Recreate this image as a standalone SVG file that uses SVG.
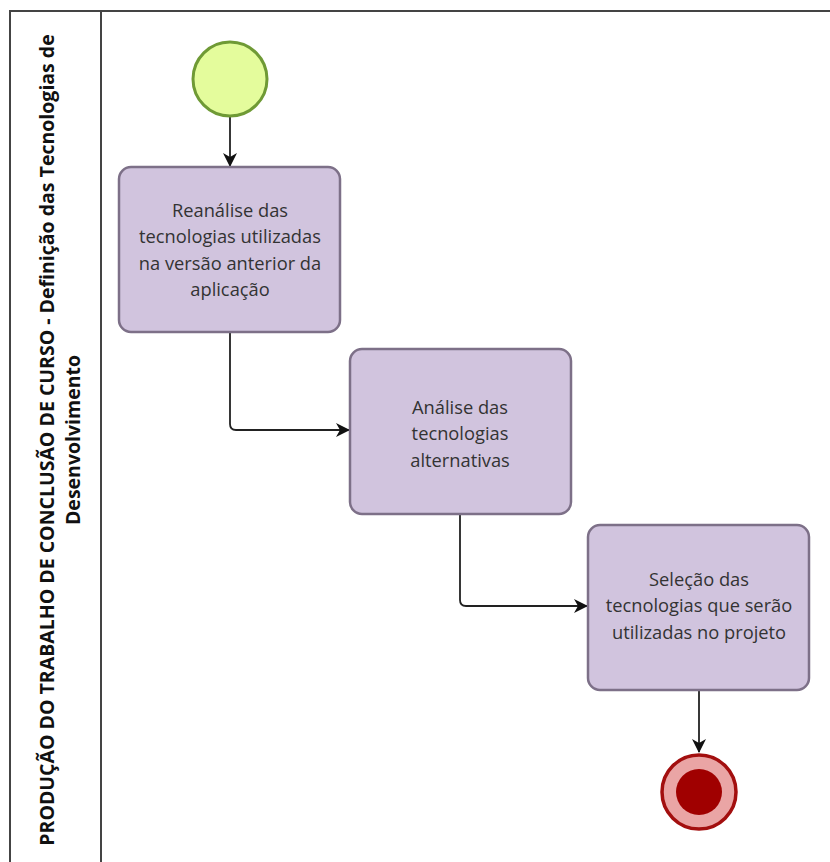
<svg xmlns="http://www.w3.org/2000/svg" width="830" height="862" viewBox="0 0 830 862">
  <defs>
    <marker id="arrow" markerWidth="16" markerHeight="16" refX="13" refY="7" orient="auto" markerUnits="userSpaceOnUse">
      <path d="M0,0 L14,7 L0,14 L4,7 Z" fill="#111"/>
    </marker>
    <style>
      .lane { fill: none; stroke: #444; stroke-width: 2; }
      .task rect { fill: #d1c4de; stroke: #7d7088; stroke-width: 2.5; }
      .task text { font-family: "Open Sans", "Noto Sans", sans-serif; font-size: 18.3px; fill: #333; text-anchor: middle; }
      .title { font-family: "Open Sans", "Noto Sans", sans-serif; font-size: 19.5px; font-weight: bold; fill: #111; text-anchor: middle; }
      .flow { fill: none; stroke: #222; stroke-width: 1.8; marker-end: url(#arrow); }
    </style>
  </defs>
  <rect width="830" height="862" fill="#fff"/>

  <!-- pool / lane -->
  <g id="lane">
    <path class="lane" d="M830,11 H10 V862 M101,11 V862"/>
    <text class="title" transform="translate(54,440) rotate(-90)">PRODUÇÃO DO TRABALHO DE CONCLUSÃO DE CURSO - Definição das Tecnologias de</text>
    <text class="title" transform="translate(80,440) rotate(-90)">Desenvolvimento</text>
  </g>

  <!-- connectors -->
  <g id="connectors">
    <path class="flow" d="M230,117 V166"/>
    <path class="flow" d="M230,332 V424 Q230,430 236,430 H349"/>
    <path class="flow" d="M460,513 V600 Q460,606 466,606 H587"/>
    <path class="flow" d="M699,690 V752"/>
  </g>

  <g id="start">
    <circle cx="230" cy="79" r="37" fill="#e4fc9c" stroke="#6f9a35" stroke-width="3"/>
  </g>

  <g id="task1" class="task">
    <rect x="119" y="167" width="221" height="165" rx="12"/>
    <text x="230" y="217">Reanálise das</text>
    <text x="230" y="243">tecnologias utilizadas</text>
    <text x="230" y="270">na versão anterior da</text>
    <text x="230" y="296">aplicação</text>
  </g>

  <g id="task2" class="task">
    <rect x="350" y="349" width="221" height="165" rx="12"/>
    <text x="460" y="414">Análise das</text>
    <text x="460" y="440">tecnologias</text>
    <text x="460" y="467">alternativas</text>
  </g>

  <g id="task3" class="task">
    <rect x="588" y="525" width="221" height="165" rx="12"/>
    <text x="699" y="586">Seleção das</text>
    <text x="699" y="612">tecnologias que serão</text>
    <text x="699" y="639">utilizadas no projeto</text>
  </g>

  <g id="end">
    <circle cx="699" cy="792" r="37" fill="#eaa5a5" stroke="#a30f0f" stroke-width="3.5"/>
    <circle cx="699" cy="792" r="23" fill="#a00000"/>
  </g>
</svg>
